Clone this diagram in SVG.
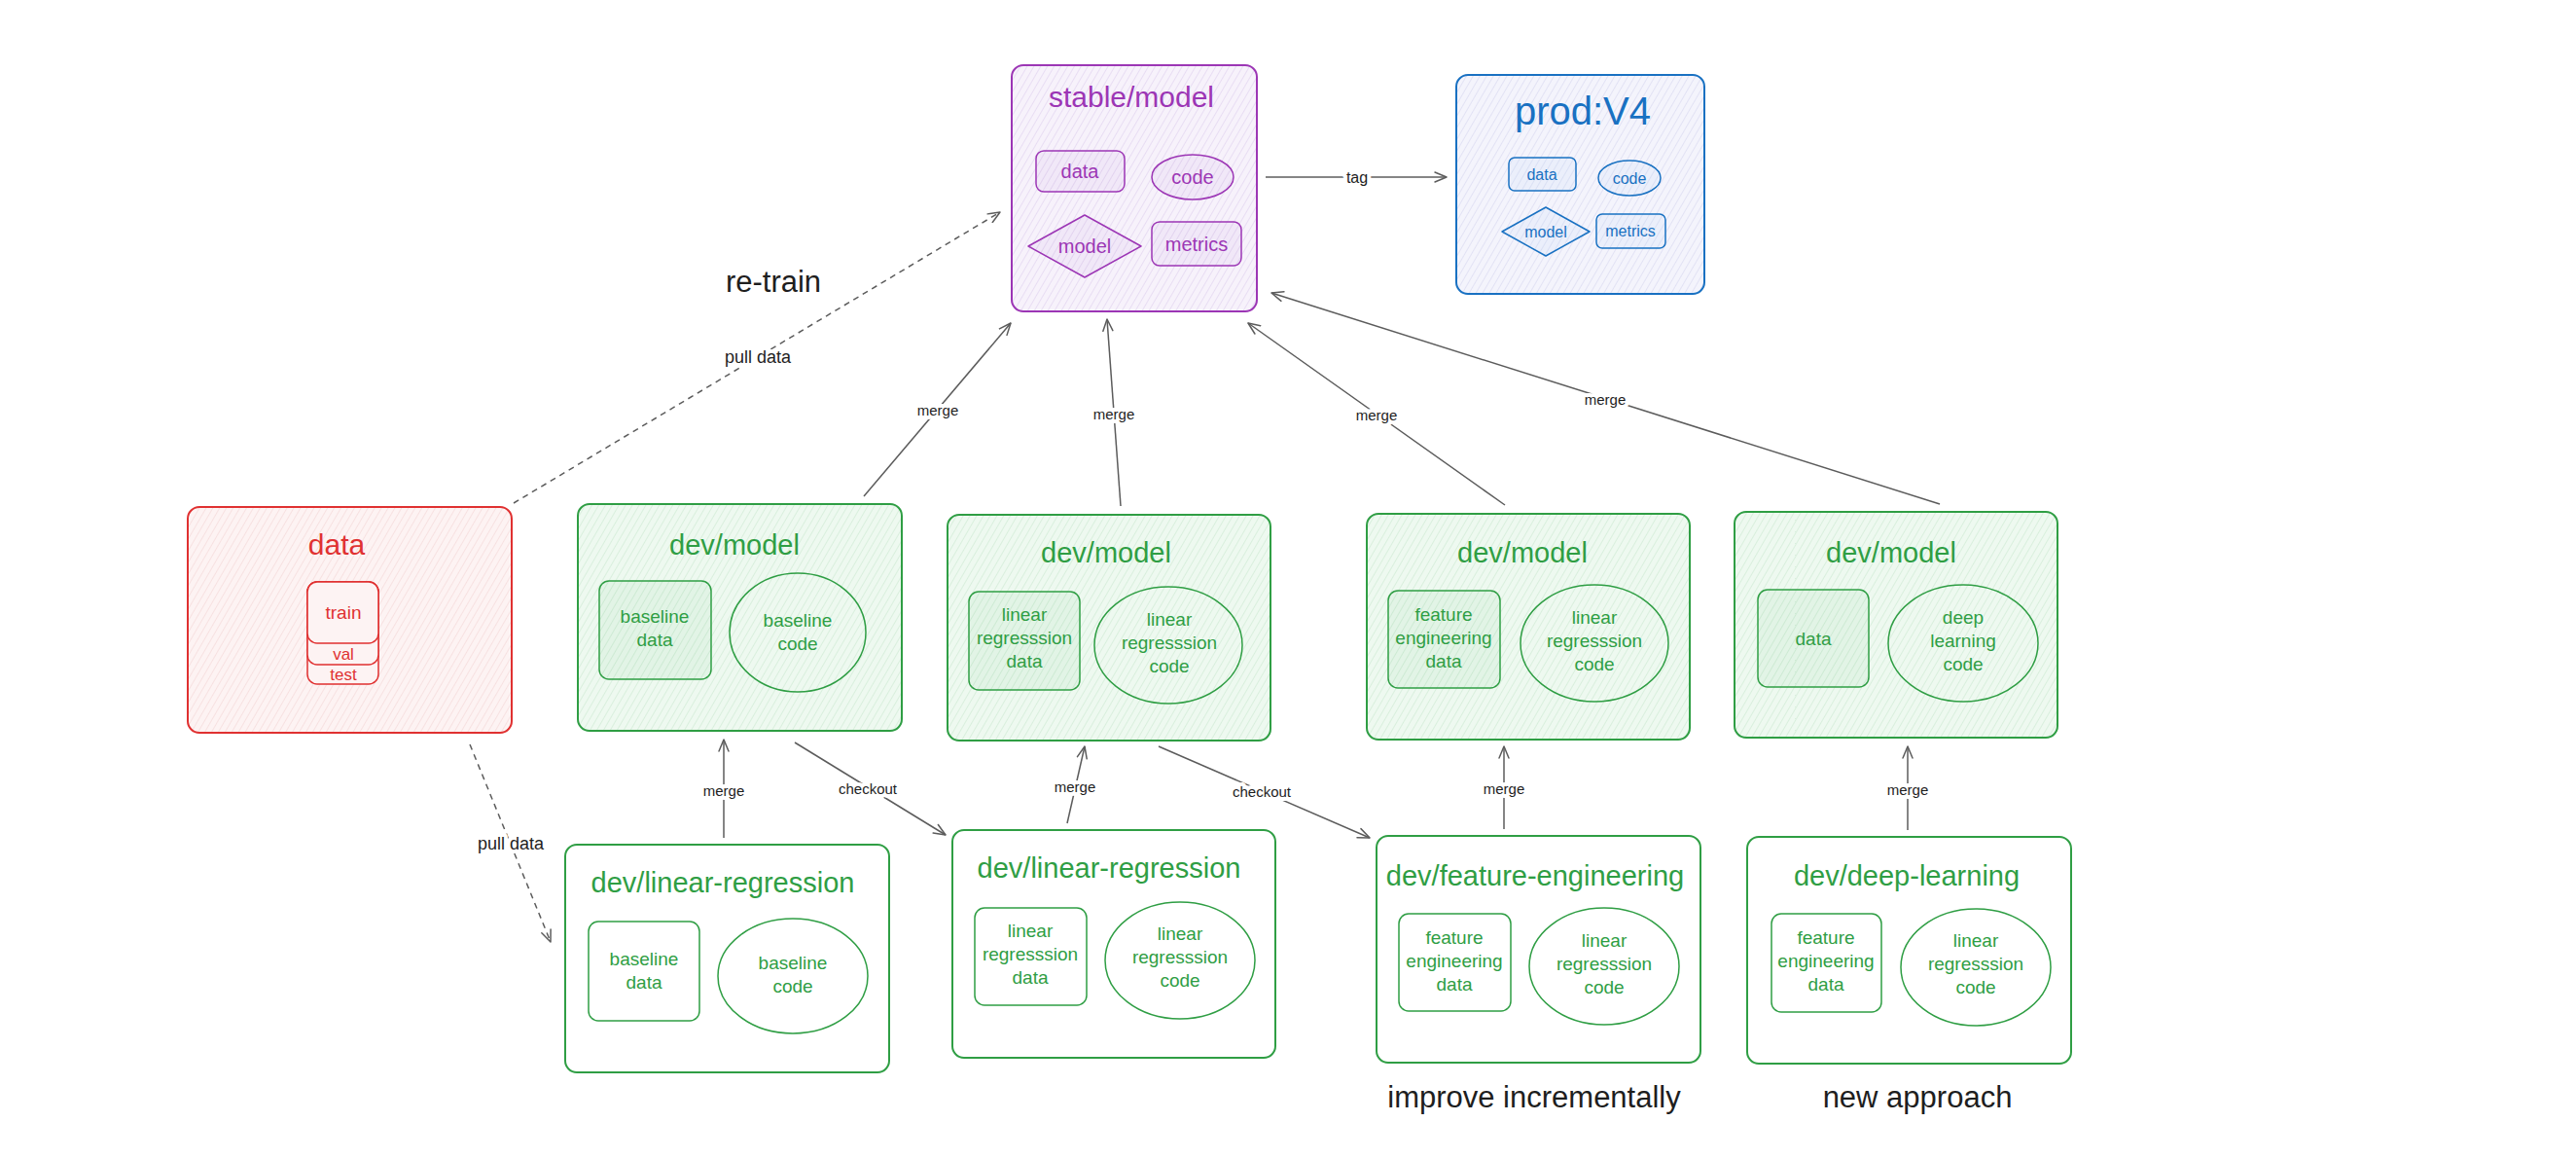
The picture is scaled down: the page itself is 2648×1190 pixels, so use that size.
<svg xmlns="http://www.w3.org/2000/svg" width="2648" height="1190" viewBox="0 0 2648 1190">
<defs>
<pattern id="hg" width="6" height="6" patternUnits="userSpaceOnUse" patternTransform="rotate(30)"><rect width="6" height="6" fill="#eef9f0"/><line x1="0" y1="0" x2="0" y2="6" stroke="#cbe9d0" stroke-width="1.2"/></pattern>
<pattern id="hg2" width="6" height="6" patternUnits="userSpaceOnUse" patternTransform="rotate(30)"><rect width="6" height="6" fill="#e2f4e6"/><line x1="0" y1="0" x2="0" y2="6" stroke="#bfe4c6" stroke-width="1.2"/></pattern>
<pattern id="hp" width="6" height="6" patternUnits="userSpaceOnUse" patternTransform="rotate(30)"><rect width="6" height="6" fill="#f7f2fb"/><line x1="0" y1="0" x2="0" y2="6" stroke="#dfd0ee" stroke-width="1.2"/></pattern>
<pattern id="hp2" width="6" height="6" patternUnits="userSpaceOnUse" patternTransform="rotate(30)"><rect width="6" height="6" fill="#f1e8f8"/><line x1="0" y1="0" x2="0" y2="6" stroke="#d9c6ea" stroke-width="1.2"/></pattern>
<pattern id="hb" width="6" height="6" patternUnits="userSpaceOnUse" patternTransform="rotate(30)"><rect width="6" height="6" fill="#f4f4fc"/><line x1="0" y1="0" x2="0" y2="6" stroke="#d6d6f0" stroke-width="1.2"/></pattern>
<pattern id="hb2" width="6" height="6" patternUnits="userSpaceOnUse" patternTransform="rotate(30)"><rect width="6" height="6" fill="#ebeffb"/><line x1="0" y1="0" x2="0" y2="6" stroke="#cfd6f0" stroke-width="1.2"/></pattern>
<pattern id="hr" width="6" height="6" patternUnits="userSpaceOnUse" patternTransform="rotate(30)"><rect width="6" height="6" fill="#fdf3f3"/><line x1="0" y1="0" x2="0" y2="6" stroke="#f4d6d6" stroke-width="1.2"/></pattern>
<marker id="ah" viewBox="0 0 14 12" refX="13" refY="6" markerWidth="14" markerHeight="12" markerUnits="userSpaceOnUse" orient="auto">
<path d="M1,1 L13,6 L1,11" fill="none" stroke="#5c5c5c" stroke-width="1.5" stroke-linecap="round" stroke-linejoin="round"/>
</marker>
<style>
text{font-family:"Liberation Sans",Arial,sans-serif;text-anchor:middle}
.g{stroke:#2f9e44;stroke-width:2}
.gi{stroke:#2f9e44;stroke-width:1.5}
.gt{fill:#2f9e44}
.ttl{font-size:29px}
.in{font-size:19px}
.p{stroke:#9c36b5}
.pt{fill:#9c36b5}
.b{stroke:#1971c2}
.bt{fill:#1971c2}
.r{stroke:#e03131}
.rt{fill:#e03131}
.c{fill:none;stroke:#5c5c5c;stroke-width:1.5;marker-end:url(#ah)}
.d{stroke-dasharray:6 5}
.lbl{fill:#1e1e1e;dominant-baseline:central;paint-order:stroke;stroke:#fff;stroke-width:8px;stroke-linejoin:round}
.big{fill:#1e1e1e;font-size:31px}
</style>
</defs>
<rect width="2648" height="1190" fill="#ffffff"/>

<g id="connectors">
<path class="c d" d="M528,517 L1028,218"/>
<text class="lbl" x="779" y="367" font-size="18">pull data</text>
<path class="c d" d="M483,765 L566,968"/>
<text class="lbl" x="525" y="867" font-size="18">pull data</text>
<path class="c" d="M888,510 L1039,332"/>
<text class="lbl" x="964" y="421" font-size="15">merge</text>
<path class="c" d="M1152,520 L1138,328"/>
<text class="lbl" x="1145" y="425" font-size="15">merge</text>
<path class="c" d="M1547,519 L1283,332"/>
<text class="lbl" x="1415" y="426" font-size="15">merge</text>
<path class="c" d="M1994,518 L1307,301"/>
<text class="lbl" x="1650" y="410" font-size="15">merge</text>
<path class="c" d="M1301,182 L1487,182"/>
<text class="lbl" x="1395" y="182" font-size="16">tag</text>
<path class="c" d="M744,861 L744,760"/>
<text class="lbl" x="744" y="812" font-size="15">merge</text>
<path class="c" d="M817,763 L972,858"/>
<text class="lbl" x="892" y="810" font-size="15">checkout</text>
<path class="c" d="M1097,846 L1115,767"/>
<text class="lbl" x="1105" y="808" font-size="15">merge</text>
<path class="c" d="M1191,767 L1408,861"/>
<text class="lbl" x="1297" y="813" font-size="15">checkout</text>
<path class="c" d="M1546,852 L1546,767"/>
<text class="lbl" x="1546" y="810" font-size="15">merge</text>
<path class="c" d="M1961,853 L1961,767"/>
<text class="lbl" x="1961" y="811" font-size="15">merge</text>
</g>

<g id="stable-model">
<rect x="1040" y="67" width="252" height="253" rx="12" fill="url(#hp)" class="p" stroke-width="2"/>
<text x="1163" y="110" font-size="30" class="pt">stable/model</text>
<rect x="1065" y="155" width="91" height="42" rx="8" fill="url(#hp2)" class="p" stroke-width="1.5"/>
<text x="1110" y="183" font-size="20" class="pt">data</text>
<ellipse cx="1226" cy="182" rx="42" ry="23" fill="url(#hp2)" class="p" stroke-width="1.5"/>
<text x="1226" y="189" font-size="20" class="pt">code</text>
<path d="M1057,253 L1115,221 L1173,253 L1115,285 Z" fill="url(#hp2)" class="p" stroke-width="1.5" stroke-linejoin="round"/>
<text x="1115" y="260" font-size="20" class="pt">model</text>
<rect x="1184" y="228" width="92" height="45" rx="8" fill="url(#hp2)" class="p" stroke-width="1.5"/>
<text x="1230" y="258" font-size="20" class="pt">metrics</text>
</g>

<g id="prod-v4">
<rect x="1497" y="77" width="255" height="225" rx="12" fill="url(#hb)" class="b" stroke-width="2"/>
<text x="1627" y="128" font-size="40" class="bt">prod:V4</text>
<rect x="1551" y="162" width="69" height="34" rx="6" fill="url(#hb2)" class="b" stroke-width="1.5"/>
<text x="1585" y="185" font-size="16" class="bt">data</text>
<ellipse cx="1675" cy="183" rx="32" ry="18" fill="url(#hb2)" class="b" stroke-width="1.5"/>
<text x="1675" y="189" font-size="16" class="bt">code</text>
<path d="M1544,238 L1589,213 L1634,238 L1589,263 Z" fill="url(#hb2)" class="b" stroke-width="1.5" stroke-linejoin="round"/>
<text x="1589" y="244" font-size="16" class="bt">model</text>
<rect x="1641" y="220" width="71" height="35" rx="6" fill="url(#hb2)" class="b" stroke-width="1.5"/>
<text x="1676" y="243" font-size="16" class="bt">metrics</text>
</g>

<g id="data">
<rect x="193" y="521" width="333" height="232" rx="12" fill="url(#hr)" class="r" stroke-width="2"/>
<text x="346" y="570" font-size="30" class="rt">data</text>
<rect x="316" y="598" width="73" height="105" rx="10" fill="#fdf3f3" class="r" stroke-width="1.5"/>
<rect x="316" y="598" width="73" height="85" rx="10" fill="#fdf3f3" class="r" stroke-width="1.5"/>
<rect x="316" y="598" width="73" height="63" rx="10" fill="#fdf3f3" class="r" stroke-width="1.5"/>
<text x="353" y="636" font-size="19" class="rt">train</text>
<text x="353" y="678" font-size="17" class="rt">val</text>
<text x="353" y="699" font-size="17" class="rt">test</text>
</g>

<g id="dev-model-1">
<rect x="594" y="518" width="333" height="233" rx="12" fill="url(#hg)" class="g"/>
<text x="755" y="570" class="gt ttl">dev/model</text>
<rect x="616" y="597" width="115" height="101" rx="10" fill="url(#hg2)" class="gi"/>
<text x="673" class="gt in"><tspan x="673" y="640">baseline</tspan><tspan x="673" y="664">data</tspan></text>
<ellipse cx="820" cy="650" rx="70" ry="61" fill="url(#hg)" class="gi"/>
<text x="820" class="gt in"><tspan x="820" y="644">baseline</tspan><tspan x="820" y="668">code</tspan></text>
</g>

<g id="dev-model-2">
<rect x="974" y="529" width="332" height="232" rx="12" fill="url(#hg)" class="g"/>
<text x="1137" y="578" class="gt ttl">dev/model</text>
<rect x="996" y="608" width="114" height="101" rx="10" fill="url(#hg2)" class="gi"/>
<text class="gt in"><tspan x="1053" y="638">linear</tspan><tspan x="1053" y="662">regresssion</tspan><tspan x="1053" y="686">data</tspan></text>
<ellipse cx="1201" cy="663" rx="76" ry="60" fill="url(#hg)" class="gi"/>
<text class="gt in"><tspan x="1202" y="643">linear</tspan><tspan x="1202" y="667">regresssion</tspan><tspan x="1202" y="691">code</tspan></text>
</g>

<g id="dev-model-3">
<rect x="1405" y="528" width="332" height="232" rx="12" fill="url(#hg)" class="g"/>
<text x="1565" y="578" class="gt ttl">dev/model</text>
<rect x="1427" y="607" width="115" height="100" rx="10" fill="url(#hg2)" class="gi"/>
<text class="gt in"><tspan x="1484" y="638">feature</tspan><tspan x="1484" y="662">engineering</tspan><tspan x="1484" y="686">data</tspan></text>
<ellipse cx="1639" cy="661" rx="76" ry="60" fill="url(#hg)" class="gi"/>
<text class="gt in"><tspan x="1639" y="641">linear</tspan><tspan x="1639" y="665">regresssion</tspan><tspan x="1639" y="689">code</tspan></text>
</g>

<g id="dev-model-4">
<rect x="1783" y="526" width="332" height="232" rx="12" fill="url(#hg)" class="g"/>
<text x="1944" y="578" class="gt ttl">dev/model</text>
<rect x="1807" y="606" width="114" height="100" rx="10" fill="url(#hg2)" class="gi"/>
<text x="1864" y="663" class="gt in">data</text>
<ellipse cx="2018" cy="661" rx="77" ry="60" fill="url(#hg)" class="gi"/>
<text class="gt in"><tspan x="2018" y="641">deep</tspan><tspan x="2018" y="665">learning</tspan><tspan x="2018" y="689">code</tspan></text>
</g>

<g id="dev-linear-regression-1">
<rect x="581" y="868" width="333" height="234" rx="12" fill="#ffffff" class="g"/>
<text x="743" y="917" class="gt ttl">dev/linear-regression</text>
<rect x="605" y="947" width="114" height="102" rx="10" fill="none" class="gi"/>
<text class="gt in"><tspan x="662" y="992">baseline</tspan><tspan x="662" y="1016">data</tspan></text>
<ellipse cx="815" cy="1003" rx="77" ry="59" fill="none" class="gi"/>
<text class="gt in"><tspan x="815" y="996">baseline</tspan><tspan x="815" y="1020">code</tspan></text>
</g>

<g id="dev-linear-regression-2">
<rect x="979" y="853" width="332" height="234" rx="12" fill="#ffffff" class="g"/>
<text x="1140" y="902" class="gt ttl">dev/linear-regression</text>
<rect x="1002" y="933" width="115" height="100" rx="10" fill="none" class="gi"/>
<text class="gt in"><tspan x="1059" y="963">linear</tspan><tspan x="1059" y="987">regresssion</tspan><tspan x="1059" y="1011">data</tspan></text>
<ellipse cx="1213" cy="987" rx="77" ry="60" fill="none" class="gi"/>
<text class="gt in"><tspan x="1213" y="966">linear</tspan><tspan x="1213" y="990">regresssion</tspan><tspan x="1213" y="1014">code</tspan></text>
</g>

<g id="dev-feature-engineering">
<rect x="1415" y="859" width="333" height="233" rx="12" fill="#ffffff" class="g"/>
<text x="1578" y="910" class="gt ttl">dev/feature-engineering</text>
<rect x="1438" y="939" width="115" height="100" rx="10" fill="none" class="gi"/>
<text class="gt in"><tspan x="1495" y="970">feature</tspan><tspan x="1495" y="994">engineering</tspan><tspan x="1495" y="1018">data</tspan></text>
<ellipse cx="1649" cy="993" rx="77" ry="60" fill="none" class="gi"/>
<text class="gt in"><tspan x="1649" y="973">linear</tspan><tspan x="1649" y="997">regresssion</tspan><tspan x="1649" y="1021">code</tspan></text>
</g>

<g id="dev-deep-learning">
<rect x="1796" y="860" width="333" height="233" rx="12" fill="#ffffff" class="g"/>
<text x="1960" y="910" class="gt ttl">dev/deep-learning</text>
<rect x="1821" y="939" width="113" height="101" rx="10" fill="none" class="gi"/>
<text class="gt in"><tspan x="1877" y="970">feature</tspan><tspan x="1877" y="994">engineering</tspan><tspan x="1877" y="1018">data</tspan></text>
<ellipse cx="2031" cy="994" rx="77" ry="60" fill="none" class="gi"/>
<text class="gt in"><tspan x="2031" y="973">linear</tspan><tspan x="2031" y="997">regresssion</tspan><tspan x="2031" y="1021">code</tspan></text>
</g>

<g id="annotations">
<text x="795" y="300" class="big">re-train</text>
<text x="1577" y="1138" class="big">improve incrementally</text>
<text x="1971" y="1138" class="big">new approach</text>
</g>
</svg>
